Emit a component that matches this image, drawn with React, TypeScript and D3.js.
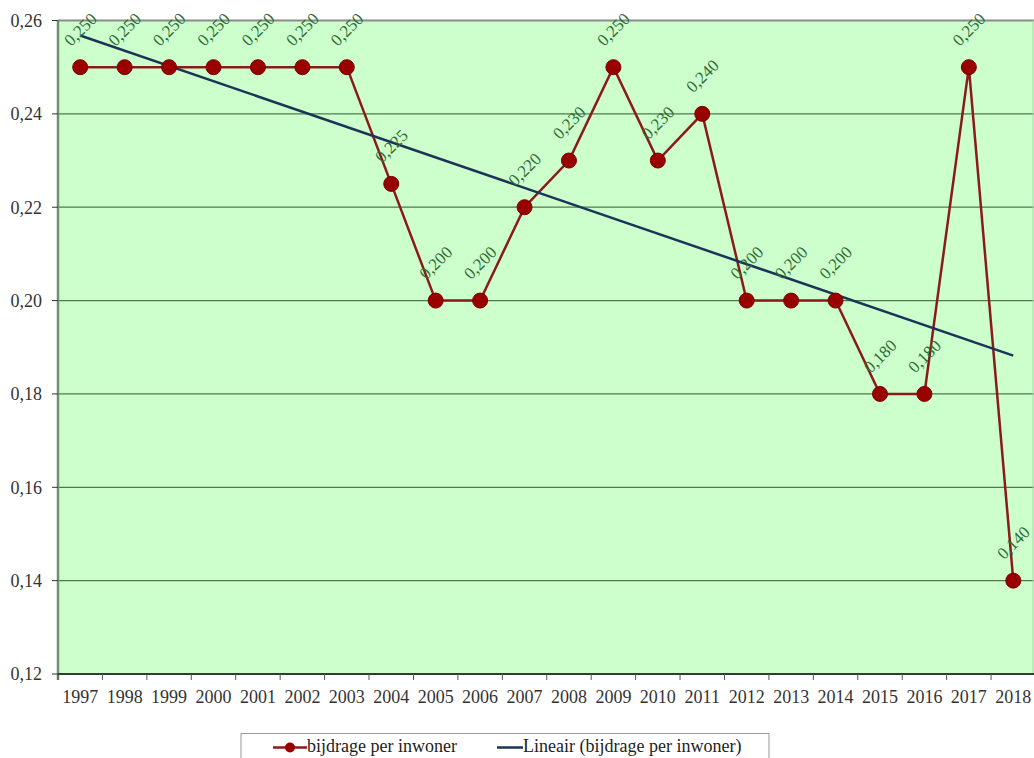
import React from "react";
import * as d3 from "d3";

const years = ["1997","1998","1999","2000","2001","2002","2003","2004","2005","2006","2007","2008","2009","2010","2011","2012","2013","2014","2015","2016","2017","2018"];
const contribution = [0.25,0.25,0.25,0.25,0.25,0.25,0.25,0.225,0.2,0.2,0.22,0.23,0.25,0.23,0.24,0.2,0.2,0.2,0.18,0.18,0.25,0.14];
const yTicks = [0.12,0.14,0.16,0.18,0.2,0.22,0.24,0.26];
const seriesName = "bijdrage per inwoner";
const trendName = "Lineair (bijdrage per inwoner)";

const W = 1034;
const H = 758;
const plot = { left: 58, right: 1035.5, top: 20.5, bottom: 674 };
const FONT = "Liberation Serif, Times New Roman, DejaVu Serif, serif";
const txt = { fontFamily: FONT };

const fmt = (v: number, d: number) => v.toFixed(d).replace(".", ",");

export default function App() {
  const x = d3.scaleBand<string>().domain(years).range([plot.left, plot.right]);
  const y = d3.scaleLinear().domain([0.12, 0.26]).range([plot.bottom, plot.top]);
  const cx = (yr: string) => (x(yr) as number) + x.bandwidth() / 2;

  // least-squares trend over the category index
  const n = contribution.length;
  const idx = d3.range(1, n + 1);
  const mx = d3.mean(idx) as number;
  const my = d3.mean(contribution) as number;
  const slope =
    d3.sum(idx, (i, k) => (i - mx) * (contribution[k] - my)) /
    d3.sum(idx, (i) => (i - mx) * (i - mx));
  const icpt = my - slope * mx;
  const trend = [icpt + slope * 1, icpt + slope * n];

  const line = d3
    .line<number>()
    .x((_, i) => cx(years[i]))
    .y((v) => y(v));

  const boundaries = d3.range(0, n + 1).map((i) => plot.left + i * x.step());

  return (
    <svg width={W} height={H} style={{ position: "absolute", left: 0, top: 0, background: "#fff" }}>
      <defs>
        <clipPath id="plotClip">
          <rect x={plot.left} y={plot.top - 40} width={plot.right - plot.left} height={plot.bottom - plot.top + 40} />
        </clipPath>
      </defs>
      <rect x={plot.left} y={plot.top} width={plot.right - plot.left} height={plot.bottom - plot.top} fill="#ccffcc" />
      {/* horizontal gridlines */}
      {yTicks.slice(1, -1).map((t) => (
        <line key={t} x1={plot.left} x2={plot.right} y1={y(t)} y2={y(t)} stroke="#4f7a4f" strokeWidth={1.3} />
      ))}
      <line x1={plot.left} x2={plot.right} y1={plot.top} y2={plot.top} stroke="#8a8a8a" strokeWidth={2} />
      <line x1={W - 1} x2={W - 1} y1={plot.top} y2={plot.bottom} stroke="#a8d8a8" strokeWidth={1} />
      {/* y axis */}
      <line x1={plot.left} x2={plot.left} y1={plot.top} y2={plot.bottom + 6} stroke="#6f8f6f" strokeWidth={2.5} />
      {yTicks.map((t) => (
        <g key={t}>
          <line x1={plot.left - 6} x2={plot.left} y1={y(t)} y2={y(t)} stroke="#333" strokeWidth={1} />
          <text x={plot.left - 16} y={y(t)} dy="0.35em" textAnchor="end" fontSize={18} fill="#333" style={txt}>
            {fmt(t, 2)}
          </text>
        </g>
      ))}
      {/* x axis */}
      <line x1={plot.left} x2={plot.right} y1={plot.bottom} y2={plot.bottom} stroke="#2f3f2f" strokeWidth={2} />
      {boundaries.map((b, i) => (
        <line key={i} x1={b} x2={b} y1={plot.bottom} y2={plot.bottom + 6} stroke="#555" strokeWidth={1} />
      ))}
      {years.map((yr) => (
        <text key={yr} x={cx(yr)} y={plot.bottom + 29} textAnchor="middle" fontSize={18} fill="#333" style={txt}>
          {yr}
        </text>
      ))}
      <g clipPath="url(#plotClip)">
        <path d={line(contribution) as string} fill="none" stroke="#8b1a1a" strokeWidth={2.5} />
        <line x1={cx(years[0])} x2={cx(years[n - 1])} y1={y(trend[0])} y2={y(trend[1])} stroke="#1c3458" strokeWidth={2.5} />
        {contribution.map((v, i) => (
          <circle key={i} cx={cx(years[i])} cy={y(v)} r={7.5} fill="#990000" stroke="#7a0000" strokeWidth={1} />
        ))}
      </g>
      {/* data labels */}
      {contribution.map((v, i) => {
        const px = cx(years[i]);
        const py = y(v) - 38;
        return (
          <text key={i} x={px} y={py} dy="0.35em" textAnchor="middle" fontSize={17} fill="#2e6b35" style={txt} transform={`rotate(-45 ${px} ${py})`}>
            {fmt(v, 3)}
          </text>
        );
      })}
      {/* legend */}
      <rect x={241} y={733.5} width={528} height={40} fill="#fff" stroke="#999" strokeWidth={1} />
      <line x1={273} x2={307} y1={747.5} y2={747.5} stroke="#8b1a1a" strokeWidth={2.5} />
      <circle cx={290} cy={747.5} r={5} fill="#990000" />
      <text x={307} y={752} fontSize={18} fill="#222" style={txt}>{seriesName}</text>
      <line x1={497} x2={523} y1={747.5} y2={747.5} stroke="#1c3458" strokeWidth={2.5} />
      <text x={523} y={752} fontSize={18} fill="#222" style={txt}>{trendName}</text>
    </svg>
  );
}
